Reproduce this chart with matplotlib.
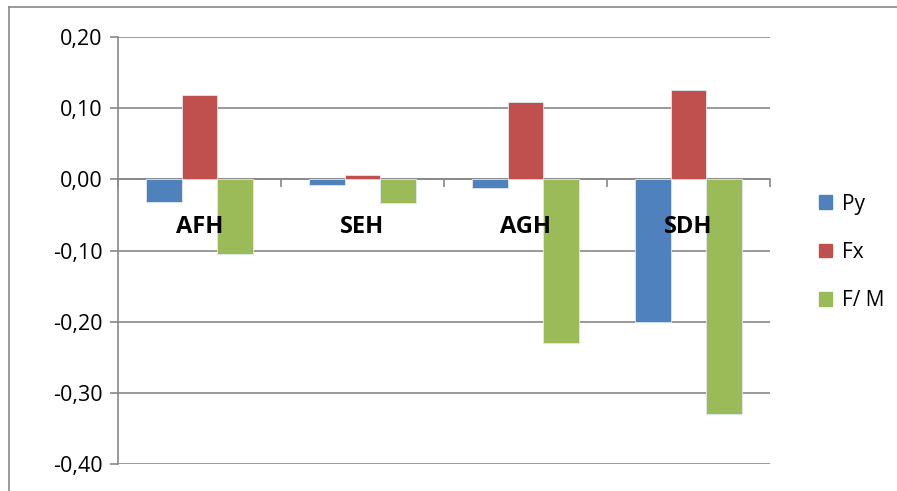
import matplotlib.pyplot as plt
from matplotlib.lines import Line2D
import numpy as np

categories = ['AFH', 'SEH', 'AGH', 'SDH']
py = [-0.032, -0.008, -0.012, -0.200]
fx = [0.118, 0.006, 0.108, 0.125]
fm = [-0.105, -0.033, -0.230, -0.330]
series_names = ['Py', 'Fx', 'F/ M']
colors = ['#4F81BD', '#C0504D', '#9BBB59']

plt.rcParams['font.family'] = ['Open Sans', 'DejaVu Sans']

fig = plt.figure(figsize=(8.97, 4.91), dpi=100)
ax = fig.add_axes([118 / 897, 1 - 464 / 491, 652 / 897, 427 / 491])

x = np.arange(len(categories))
w = 0.22
for k, vals in enumerate([py, fx, fm]):
    ax.bar(x + (k - 1) * w, vals, width=w, color=colors[k], edgecolor='#dfe8f2',
           linewidth=0.6, label=series_names[k], zorder=3)

ax.set_xlim(-0.5, len(categories) - 0.5)
ax.set_ylim(-0.40, 0.20)
yt = np.arange(-0.40, 0.201, 0.10)
ax.set_yticks(yt)
ax.set_yticklabels([f'{v:.2f}'.replace('.', ',').replace('-0,00', '0,00') for v in yt], fontsize=15.5)
ax.yaxis.grid(True, color='#888888', linewidth=1.2, zorder=0)
ax.set_axisbelow(True)

for s in ['top', 'right']:
    ax.spines[s].set_visible(False)
ax.spines['left'].set_color('#888888')
ax.spines['left'].set_linewidth(1.2)
ax.spines['bottom'].set_position(('data', 0))
ax.spines['bottom'].set_color('#888888')
ax.spines['bottom'].set_linewidth(1.2)

ax.set_xticks(np.arange(-0.5, len(categories), 1.0))
ax.set_xticklabels([])
ax.tick_params(axis='x', direction='out', length=6, width=1.2, color='#888888')
ax.tick_params(axis='y', direction='out', length=6, width=1.2, color='#888888', pad=5)

for i, c in enumerate(categories):
    ax.text(i, -0.067, c, ha='center', va='center', fontsize=17, fontweight='bold', zorder=5)

handles = [plt.Rectangle((0, 0), 1, 1, color=c) for c in colors]
fig.legend(handles, series_names, loc='upper left', bbox_to_anchor=(800 / 897, 1 - 175 / 491),
           frameon=False, fontsize=15, handlelength=0.65, handleheight=0.65,
           labelspacing=1.3, handletextpad=0.45)

# outer chart border
fig.add_artist(Line2D([9 / 897, 1], [1 - 7 / 491, 1 - 7 / 491], color='#888888', linewidth=1.2))
fig.add_artist(Line2D([9 / 897, 9 / 897], [0, 1 - 7 / 491], color='#888888', linewidth=1.2))

fig.savefig('out.png', dpi=100)
